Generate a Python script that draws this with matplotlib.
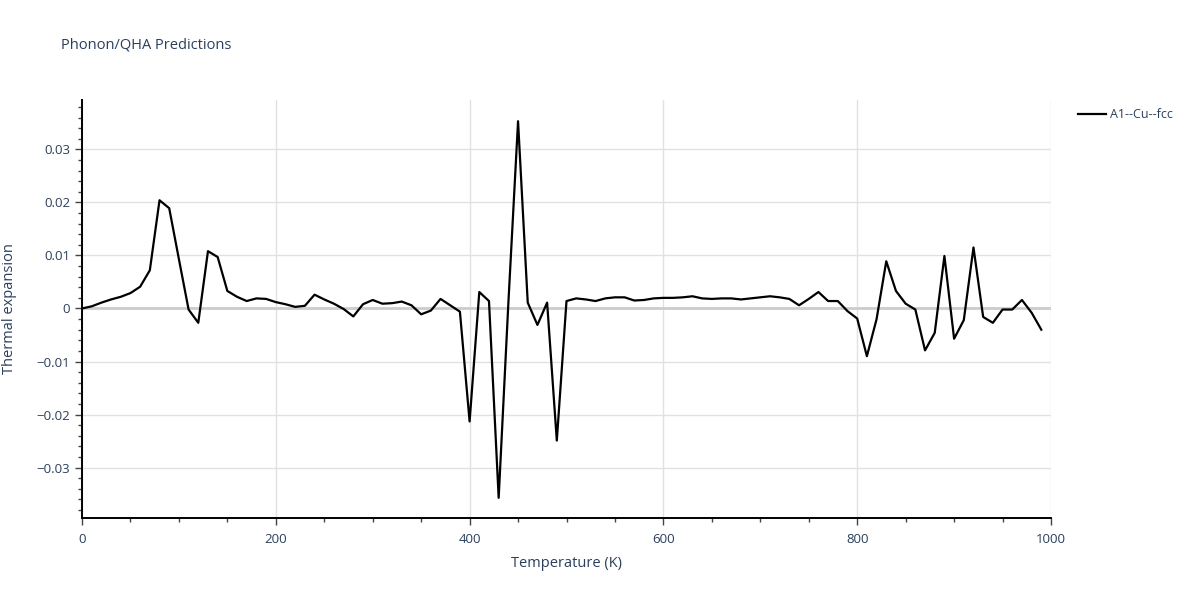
import matplotlib
matplotlib.use('Agg')
import matplotlib.pyplot as plt
from matplotlib.ticker import MultipleLocator
from matplotlib.lines import Line2D
import numpy as np

# Temperature grid (K) and thermal expansion
temperature = list(range(0, 1000, 10))
thermal_expansion = [
    0.0000, 0.0004, 0.0011, 0.0017, 0.0022, 0.0029, 0.0041, 0.0072, 0.0204, 0.0189,
    0.0093, -0.0002, -0.0027, 0.0108, 0.0097, 0.0033, 0.0022, 0.0014, 0.0019, 0.0018,
    0.0012, 0.0008, 0.0003, 0.0005, 0.0026, 0.0017, 0.0009, -0.0001, -0.0015, 0.0008,
    0.0016, 0.0009, 0.0010, 0.0013, 0.0006, -0.0011, -0.0004, 0.0018, 0.0006, -0.0006,
    -0.0213, 0.0031, 0.0014, -0.0357, 0.0010, 0.0353, 0.0011, -0.0031, 0.0011, -0.0249,
    0.0014, 0.0019, 0.0017, 0.0014, 0.0019, 0.0021, 0.0021, 0.0015, 0.0016, 0.0019,
    0.0020, 0.0020, 0.0021, 0.0023, 0.0019, 0.0018, 0.0019, 0.0019, 0.0017, 0.0019,
    0.0021, 0.0023, 0.0021, 0.0018, 0.0006, 0.0018, 0.0031, 0.0014, 0.0014, -0.0005,
    -0.0019, -0.0090, -0.0020, 0.0089, 0.0033, 0.0009, -0.0002, -0.0079, -0.0046, 0.0099,
    -0.0057, -0.0022, 0.0115, -0.0016, -0.0027, -0.0002, -0.0002, 0.0016, -0.0008, -0.0040,
]
series_name = 'A1--Cu--fcc'

text_color = '#2a3f5f'
grid_color = '#e1e1e1'
plt.rcParams['font.family'] = ['Open Sans', 'DejaVu Sans']

fig = plt.figure(figsize=(12, 6), dpi=100)
ax = fig.add_axes([82 / 1200, 82 / 600, (1051 - 82) / 1200, (518 - 100) / 600])

ax.plot(temperature, thermal_expansion, color='black', linewidth=1.6, zorder=3)
ax.axhline(0, color='#cccccc', linewidth=2, zorder=1)

ax.set_xlim(0, 1000)
ax.set_ylim(-0.0395, 0.0393)

ax.xaxis.set_major_locator(MultipleLocator(200))
ax.xaxis.set_minor_locator(MultipleLocator(50))
ax.yaxis.set_major_locator(MultipleLocator(0.01))
ax.yaxis.set_minor_locator(MultipleLocator(0.002))
ax.yaxis.set_major_formatter(lambda v, pos: '0' if abs(v) < 1e-9 else f'{v:.2f}'.replace('-', '\u2212'))

ax.grid(True, which='major', color=grid_color, linewidth=1, zorder=0)
ax.set_axisbelow(True)

for side in ['top', 'right']:
    ax.spines[side].set_visible(False)
for side in ['left', 'bottom']:
    ax.spines[side].set_color('black')
    ax.spines[side].set_linewidth(1.4)

ax.tick_params(which='major', length=5, width=1, color='#444444',
               labelcolor=text_color, labelsize=9.5)
ax.tick_params(which='minor', length=3, width=1, color='#444444')
ax.tick_params(axis='x', pad=6)

ax.set_xlabel('Temperature (K)', color=text_color, fontsize=10.5, labelpad=7)
ax.set_ylabel('Thermal expansion', color=text_color, fontsize=10.5, labelpad=14)

fig.text(61 / 1200, 1 - 45 / 600, 'Phonon/QHA Predictions', color=text_color,
         fontsize=10.5, va='center', ha='left')

handle = Line2D([], [], color='black', linewidth=1.6)
fig.legend([handle], [series_name], loc='upper left', bbox_to_anchor=(1067 / 1200, 1 - 97 / 600),
           frameon=False, fontsize=9, labelcolor=text_color, handlelength=2.2, handletextpad=0.3)

fig.savefig('out.png', dpi=100)
